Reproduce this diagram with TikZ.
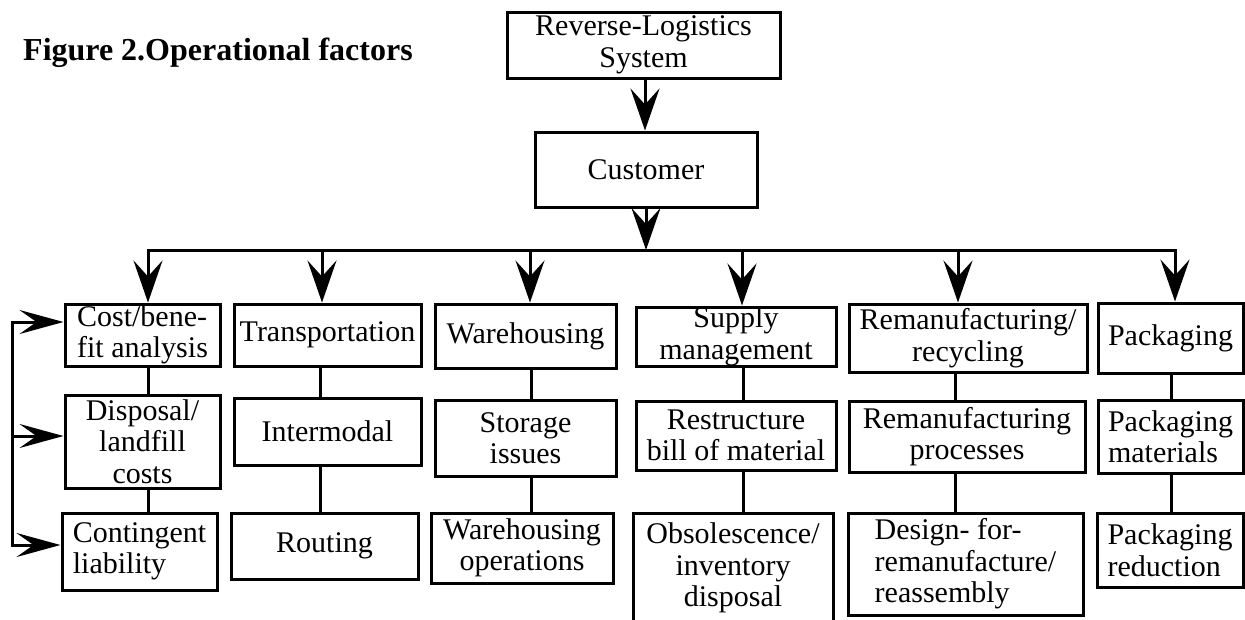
\documentclass[tikz,border=0pt]{standalone}
\usepackage{fontspec}
\setmainfont{Liberation Serif}
\usetikzlibrary{arrows.meta}

\tikzset{
  box/.style={draw, line width=3pt, inner sep=0pt, align=center,
    font={\rmfamily\fontsize{30}{31.5}\selectfont}},
  wire/.style={line width=3pt},
  downarrow/.style={line width=3pt, -{Stealth[length=42pt, width=29pt, inset=16pt]}},
  sidearrow/.style={line width=3pt, -{Stealth[length=44pt, width=24pt, inset=17pt]}},
}

\begin{document}
\begin{tikzpicture}[x=1pt, y=-1pt]
\useasboundingbox[fill=white] (0,0) rectangle (1245,619);
\clip (0,0) rectangle (1245,619);

% heading
\node[anchor=base west, inner sep=0pt, font={\rmfamily\bfseries\fontsize{32}{36}\selectfont}]
  (title) at (23,60) {Figure 2.Operational factors};

% top of the hierarchy
\node[box, minimum width=273pt, minimum height=66pt] (rls) at (643.5,45) {Reverse-Logistics\\System};
\node[box, minimum width=222pt, minimum height=75pt] (cust) at (646,169.5) {Customer};

% column 1: cost
\node[box, minimum width=155pt, minimum height=62pt, align=left] (a1) at (142.5,335) {Cost/bene-\\fit analysis};
\node[box, minimum width=155pt, minimum height=93pt] (a2) at (142.5,441.5) {Disposal/\\landfill\\costs};
\node[box, minimum width=155pt, minimum height=77pt, align=left] (a3) at (139.5,551.5) {Contingent\\liability};

% column 2: transportation
\node[box, minimum width=187pt, minimum height=62pt] (b1) at (327.5,335) {Transportation};
\node[box, minimum width=187pt, minimum height=67pt] (b2) at (327.5,431.5) {Intermodal};
\node[box, minimum width=187pt, minimum height=66pt] (b3) at (324.5,546) {Routing};

% column 3: warehousing
\node[box, minimum width=181pt, minimum height=64pt] (c1) at (525.5,336) {Warehousing};
\node[box, minimum width=181pt, minimum height=76pt] (c2) at (525.5,438) {Storage\\issues};
\node[box, minimum width=182pt, minimum height=70pt] (c3) at (522,548) {Warehousing\\operations};

% column 4: supply
\node[box, minimum width=200pt, minimum height=59pt] (d1) at (736,336.5) {Supply\\management};
\node[box, minimum width=200pt, minimum height=69pt] (d2) at (736,435.5) {Restructure\\bill of material};
\node[box, minimum width=200pt, minimum height=110pt] (d3) at (733,568) {Obsolescence/\\inventory\\disposal};

% column 5: remanufacturing
\node[box, minimum width=238pt, minimum height=68pt] (e1) at (968,338) {Remanufacturing/\\recycling};
\node[box, minimum width=236pt, minimum height=71pt] (e2) at (967,436.5) {Remanufacturing\\processes};
\node[box, minimum width=235pt, minimum height=102pt, align=left] (e3) at (965.5,564) {Design- for-\\remanufacture/\\reassembly};

% column 6: packaging
\node[box, minimum width=145pt, minimum height=70pt] (f1) at (1170.5,338) {Packaging};
\node[box, minimum width=145pt, minimum height=73pt, align=left] (f2) at (1170.5,436.5) {Packaging\\materials};
\node[box, minimum width=146pt, minimum height=74pt, align=left] (f3) at (1170,550) {Packaging\\reduction};

% distribution bus
\coordinate (t1) at (148,250);
\coordinate (t2) at (322,250);
\coordinate (t3) at (530,250);
\coordinate (t4) at (742,250);
\coordinate (t5) at (958,250);
\coordinate (t6) at (1175,250);

\draw[downarrow] (rls.south -| 645,0) -- (cust.north -| 645,0);
\draw[downarrow] (cust.south) -- (cust.south |- t1);
\draw[wire, line cap=rect] (t1) -- (t6);

\draw[downarrow] (t1) -- (a1.north -| t1);
\draw[downarrow] (t2) -- (b1.north -| t2);
\draw[downarrow] (t3) -- (c1.north -| t3);
\draw[downarrow] (t4) -- (d1.north -| t4);
\draw[downarrow] (t5) -- (e1.north -| t5);
\draw[downarrow] (t6) -- (f1.north -| t6);

% links inside each column
\draw[wire] (a1.south -| t1) -- (a2.north -| t1);
\draw[wire] (a2.south -| t1) -- (a3.north -| t1);
\draw[wire] (b1.south -| 320,0) -- (b2.north -| 320,0);
\draw[wire] (b2.south -| 320,0) -- (b3.north -| 320,0);
\draw[wire] (c1.south -| 531,0) -- (c2.north -| 531,0);
\draw[wire] (c2.south -| 531,0) -- (c3.north -| 531,0);
\draw[wire] (d1.south -| 743,0) -- (d2.north -| 743,0);
\draw[wire] (d2.south -| 743,0) -- (d3.north -| 743,0);
\draw[wire] (e1.south -| 955,0) -- (e2.north -| 955,0);
\draw[wire] (e2.south -| 955,0) -- (e3.north -| 955,0);
\draw[wire] (f1.south -| 1171,0) -- (f2.north -| 1171,0);
\draw[wire] (f2.south -| 1171,0) -- (f3.north -| 1171,0);

% feedback into the cost column
\coordinate (fb1) at (12,322);
\coordinate (fb2) at (12,436);
\coordinate (fb3) at (12,545);
\draw[wire, line cap=rect] (fb1) -- (fb3);
\draw[sidearrow] (fb1) -- (a1.west |- fb1);
\draw[sidearrow] (fb2) -- (a2.west |- fb2);
\draw[sidearrow] (fb3) -- (a3.west |- fb3);
\end{tikzpicture}
\end{document}
